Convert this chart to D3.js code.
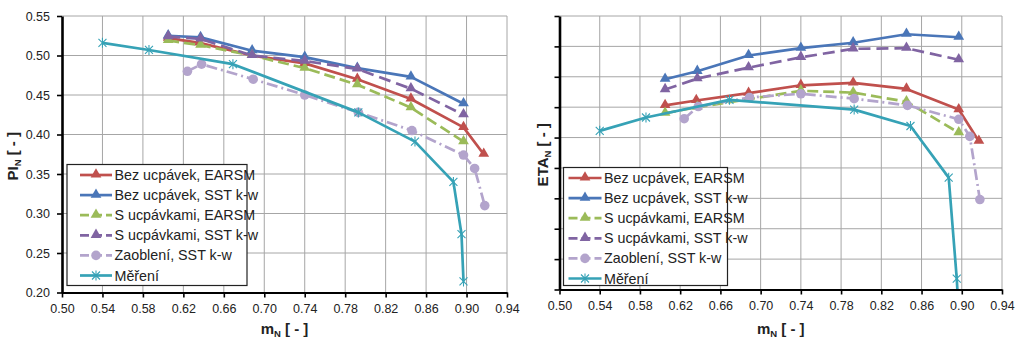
<!DOCTYPE html>
<html lang="cs">
<head>
<meta charset="UTF-8">
<script src="https://d3js.org/d3.v7.min.js"></script>
<style>
  body { margin: 0; background: white; }
  svg { display: block; font-family: "Liberation Sans", Arial, sans-serif; }
  .grid line { stroke: #a6a6a6; stroke-width: 1; }
  .tick text { font-size: 12.5px; fill: #222; }
</style>
</head>
<body>
<svg id="chart" width="1024" height="351"></svg>
<script>
// Data
const seriesNames = ["Bez ucpávek, EARSM", "Bez ucpávek, SST k-w", "S ucpávkami, EARSM",
                     "S ucpávkami, SST k-w", "Zaoblení, SST k-w", "Měření"];

const xBezEarsm = [0.605, 0.636, 0.688, 0.740, 0.792, 0.845, 0.897, 0.917];
const piBezEarsm = [0.522, 0.516, 0.500, 0.490, 0.470, 0.445, 0.409, 0.375];
const etaBezEarsm = [0.803, 0.811, 0.823, 0.836, 0.840, 0.830, 0.796, 0.744];

const xBezSst = [0.605, 0.637, 0.688, 0.740, 0.792, 0.845, 0.897];
const piBezSst = [0.525, 0.523, 0.506, 0.498, 0.484, 0.473, 0.439];
const etaBezSst = [0.846, 0.859, 0.885, 0.897, 0.906, 0.920, 0.915];

const xSEarsm = [0.605, 0.637, 0.688, 0.740, 0.792, 0.845, 0.897];
const piSEarsm = [0.519, 0.513, 0.500, 0.484, 0.463, 0.434, 0.391];
const etaSEarsm = [0.790, 0.800, 0.813, 0.827, 0.824, 0.809, 0.758];

const xSSst = [0.605, 0.637, 0.688, 0.740, 0.792, 0.845, 0.897];
const piSSst = [0.524, 0.521, 0.500, 0.493, 0.483, 0.458, 0.425];
const etaSSst = [0.829, 0.847, 0.865, 0.882, 0.896, 0.897, 0.878];

const xZaobl = [0.624, 0.638, 0.689, 0.740, 0.793, 0.846, 0.897, 0.908, 0.918];
const piZaobl = [0.480, 0.489, 0.470, 0.450, 0.428, 0.405, 0.374, 0.357, 0.310];
const etaZaobl = [0.781, 0.801, 0.816, 0.822, 0.814, 0.803, 0.780, 0.752, 0.648];

const xMereni = [0.540, 0.586, 0.669, 0.793, 0.849, 0.887, 0.895, 0.897];
const piMereni = [0.516, 0.507, 0.489, 0.428, 0.391, 0.340, 0.274, 0.214];
const etaMereni = [0.761, 0.783, 0.812, 0.796, 0.769, 0.684, 0.518, 0.460];

const xTicks = [0.50, 0.54, 0.58, 0.62, 0.66, 0.70, 0.74, 0.78, 0.82, 0.86, 0.90, 0.94];
const piTicks = [0.20, 0.25, 0.30, 0.35, 0.40, 0.45, 0.50, 0.55];
const etaTicks = [0.50, 0.55, 0.60, 0.65, 0.70, 0.75, 0.80, 0.85, 0.90, 0.95];

// styles per series
const colors = ["#c0504d", "#4a76b8", "#9bbb59", "#8064a2", "#b3a4cc", "#36a2b6"];
const dashes = [null, null, "11,5", "12,6", "11,4,2,4", null];
const markers = ["tri", "tri", "tri", "tri", "circle", "star"];

const xsAll = [xBezEarsm, xBezSst, xSEarsm, xSSst, xZaobl, xMereni];
const piAll = [piBezEarsm, piBezSst, piSEarsm, piSSst, piZaobl, piMereni];
const etaAll = [etaBezEarsm, etaBezSst, etaSEarsm, etaSSst, etaZaobl, etaMereni];

const svg = d3.select("#chart");
const fmt = d => d.toFixed(2);

function drawMarker(g, type, color, cx, cy) {
  if (type === "tri") {
    g.append("path").attr("d", d3.symbol(d3.symbolTriangle, 50)())
      .attr("transform", `translate(${cx},${cy - 0.5})`).attr("fill", color);
  } else if (type === "circle") {
    g.append("circle").attr("cx", cx).attr("cy", cy).attr("r", 4.8).attr("fill", color);
  } else {
    const r = 4;
    g.append("path")
      .attr("d", `M${cx - r},${cy - r}L${cx + r},${cy + r}M${cx - r},${cy + r}L${cx + r},${cy - r}M${cx},${cy - r - 1}L${cx},${cy + r + 1}`)
      .attr("stroke", color).attr("stroke-width", 1.1).attr("fill", "none");
  }
}

function drawPanel(opt) {
  const { left, right, top, bottom, yDomain, yTicks, yValues, showYLabels, yTitle, yTitleX, legend, clipId } = opt;
  const x = d3.scaleLinear().domain([0.50, 0.94]).range([left, right]);
  const y = d3.scaleLinear().domain(yDomain).range([bottom, top]);
  const g = svg.append("g");

  // grid
  const grid = g.append("g").attr("class", "grid");
  grid.selectAll("line.v").data(xTicks.slice(1)).join("line")
    .attr("x1", d => x(d)).attr("x2", d => x(d)).attr("y1", top).attr("y2", bottom);
  grid.selectAll("line.h").data(yTicks.slice(1)).join("line")
    .attr("x1", left).attr("x2", right).attr("y1", d => y(d)).attr("y2", d => y(d));

  // clip
  g.append("clipPath").attr("id", clipId).append("rect")
    .attr("x", left).attr("y", top - 6).attr("width", right - left + 6).attr("height", bottom - top + 6);

  const plot = g.append("g").attr("clip-path", `url(#${clipId})`);
  const line = d3.line().x(d => x(d[0])).y(d => y(d[1]));

  seriesNames.forEach((name, i) => {
    const pts = xsAll[i].map((v, k) => [v, yValues[i][k]]);
    plot.append("path").datum(pts).attr("d", line)
      .attr("fill", "none").attr("stroke", colors[i]).attr("stroke-width", 2.7)
      .attr("stroke-linejoin", "round")
      .attr("stroke-dasharray", dashes[i]);
    pts.forEach(p => drawMarker(plot, markers[i], colors[i], x(p[0]), y(p[1])));
  });

  // axes
  const xAxis = g.append("g").attr("transform", `translate(0,${bottom})`)
    .call(d3.axisBottom(x).tickValues(xTicks).tickFormat(fmt).tickSize(5).tickSizeOuter(0));
  xAxis.select(".domain").attr("stroke", "#000").attr("stroke-width", 2.2);
  xAxis.selectAll(".tick line").attr("stroke", "#000").attr("stroke-width", 1.6);
  xAxis.selectAll(".tick text").attr("dy", "1.0em");

  const yAxis = g.append("g").attr("transform", `translate(${left},0)`)
    .call(d3.axisLeft(y).tickValues(yTicks).tickFormat(showYLabels ? fmt : () => "").tickSize(5).tickSizeOuter(0));
  yAxis.select(".domain").attr("stroke", "#000").attr("stroke-width", 2.6);
  yAxis.selectAll(".tick line").attr("stroke", "#000").attr("stroke-width", 1.6);
  yAxis.selectAll(".tick text").attr("x", -12);

  // axis titles
  const xt = g.append("text").attr("x", (left + right) / 2).attr("y", 334)
    .attr("text-anchor", "middle").attr("font-size", 15).attr("font-weight", "bold").attr("fill", "#222");
  xt.append("tspan").text("m");
  xt.append("tspan").text("N").attr("font-size", 9.5).attr("dy", 3);
  xt.append("tspan").text(" [ - ]").attr("dy", -3);

  const yt = g.append("text").attr("transform", `translate(${yTitleX},${(top + bottom) / 2 + 2}) rotate(-90)`)
    .attr("text-anchor", "middle").attr("font-size", 15).attr("font-weight", "bold").attr("fill", "#222");
  yt.append("tspan").text(yTitle);
  yt.append("tspan").text("N").attr("font-size", 9.5).attr("dy", 3);
  yt.append("tspan").text(" [ - ]").attr("dy", -3);

  // legend
  const lg = g.append("g");
  lg.append("rect").attr("x", legend.x).attr("y", legend.y).attr("width", legend.w).attr("height", legend.h)
    .attr("fill", "white").attr("stroke", "#222").attr("stroke-width", 1.2);
  seriesNames.forEach((name, i) => {
    const cy = legend.y + 10.5 + i * 20.1;
    const x0 = legend.x + legend.pad, x1 = x0 + legend.sample;
    lg.append("line").attr("x1", x0).attr("x2", x1).attr("y1", cy).attr("y2", cy)
      .attr("stroke", colors[i]).attr("stroke-width", 2.7)
      .attr("stroke-dasharray", dashes[i] ? "9,4" : null);
    drawMarker(lg, markers[i], colors[i], (x0 + x1) / 2, cy);
    lg.append("text").attr("x", x1 + 2.5).attr("y", cy + 5).attr("font-size", 14.3).attr("fill", "#222").text(name);
  });
}

drawPanel({
  left: 62, right: 507, top: 16, bottom: 292.5,
  yDomain: [0.20, 0.55], yTicks: piTicks, yValues: piAll, showYLabels: true,
  yTitle: "PI", yTitleX: 18,
  legend: { x: 67, y: 164.5, w: 180, h: 121, pad: 13, sample: 32 },
  clipId: "clipL"
});

drawPanel({
  left: 559.5, right: 1002, top: 16, bottom: 289.5,
  yDomain: [0.50, 0.95], yTicks: etaTicks, yValues: etaAll, showYLabels: false,
  yTitle: "ETA", yTitleX: 548,
  legend: { x: 563.5, y: 167.5, w: 164, h: 118, pad: 5, sample: 33 },
  clipId: "clipR"
});
</script>
</body>
</html>
